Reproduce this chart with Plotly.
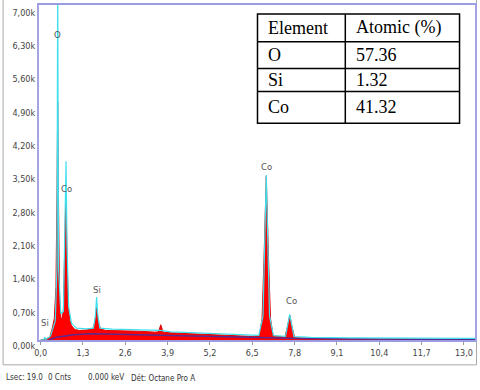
import plotly.graph_objects as go

# EDS spectrum (keV, counts)
red_kev = [0.0, 0.15, 0.28, 0.36, 0.42, 0.47, 0.5, 0.525, 0.55, 0.58, 0.62, 0.66,
           0.7, 0.74, 0.775, 0.81, 0.85, 0.9, 0.95, 1.05, 1.2, 1.4, 1.6, 1.67,
           1.72, 1.77, 1.84, 2.0, 2.5, 3.0, 3.5, 3.62, 3.69, 3.76, 4.0, 4.5, 5.0,
           5.5, 6.0, 6.5, 6.72, 6.8, 6.86, 6.93, 7.0, 7.06, 7.14, 7.45, 7.5, 7.58,
           7.65, 7.72, 7.8, 7.9, 8.5, 9.5, 10.5, 11.5, 12.5, 13.4]
red_cnt = [0, 20, 60, 250, 450, 1100, 2900, 5000, 2900, 900, 480, 430,
           650, 1800, 3050, 1800, 700, 400, 300, 220, 200, 210, 230, 380,
           680, 380, 230, 200, 195, 185, 165, 170, 320, 165, 150, 135, 120,
           105, 90, 75, 90, 450, 1700, 3430, 1700, 450, 90, 60, 60, 280,
           520, 280, 55, 45, 35, 25, 18, 12, 8, 5]

cyan_kev = [0.0, 0.1, 0.13, 0.16, 0.3, 0.45, 0.5, 0.525, 0.55, 0.62, 0.7, 0.75,
            0.78, 0.81, 0.86, 0.95, 1.1, 1.4, 1.62, 1.68, 1.72, 1.76, 1.82, 2.2,
            2.8, 3.5, 3.69, 4.0, 5.0, 6.0, 6.7, 6.83, 6.93, 7.03, 7.15, 7.52,
            7.65, 7.78, 8.3, 9.5, 11.0, 13.4]
cyan_cnt = [0, 10, 60, 10, 80, 400, 1500, 7600, 1500, 550, 600, 2500,
            3750, 2000, 700, 350, 250, 235, 250, 500, 900, 500, 250, 230,
            215, 190, 200, 170, 140, 105, 95, 500, 3460, 500, 90, 75,
            540, 70, 55, 45, 40, 35]

bg_kev = [0.25, 0.5, 1.0, 1.5, 2.0, 3.0, 4.0, 5.0, 6.0, 7.0, 8.0, 10.0, 13.4]
bg_cnt = [0, 60, 110, 130, 125, 110, 90, 70, 55, 40, 30, 20, 12]

# peak labels
peak_names = ["O", "Co", "Si", "Si", "Co", "Co"]
peak_kev = [0.53, 0.8, 1.74, 0.12, 6.94, 7.7]
peak_lbl_y = [6420, 3170, 1060, 375, 3650, 830]

# axis ticks
x_ticks = [0.0, 1.3, 2.6, 3.9, 5.2, 6.5, 7.8, 9.1, 10.4, 11.7, 13.0]
x_ticktext = ["0,0", "1,3", "2,6", "3,9", "5,2", "6,5", "7,8", "9,1", "10,4", "11,7", "13,0"]
y_ticks = [0, 700, 1400, 2100, 2800, 3500, 4200, 4900, 5600, 6300, 7000]
y_ticktext = ["0,00k", "0,70k", "1,40k", "2,10k", "2,80k", "3,50k", "4,20k",
              "4,90k", "5,60k", "6,30k", "7,00k"]

# quantification table
tbl_header = ["Element", "Atomic (%)"]
tbl_elements = ["O", "Si", "Co"]
tbl_atomic = ["57.36", "1.32", "41.32"]

status = ["Lsec: 19.0", "0 Cnts", "0.000 keV", "Dét: Octane Pro A"]

narrow = "DejaVu Sans Condensed, Liberation Sans Narrow, Roboto, sans-serif"
serif = "Liberation Serif, Times New Roman, serif"

# plot area in pixels (for converting overlay positions)
L, R, T, B = 39, 476, 3, 340
W, H = R - L, B - T
def px(x): return (x - L) / W
def py(y): return (B - y) / H

fig = go.Figure()

fig.add_trace(go.Scatter(x=red_kev, y=red_cnt, mode='lines', fill='tozeroy',
                         fillcolor='#ff0000', line=dict(color='#e00000', width=1)))
fig.add_trace(go.Scatter(x=bg_kev, y=bg_cnt, mode='lines',
                         line=dict(color='#5a2a90', width=1.5)))
fig.add_trace(go.Scatter(x=cyan_kev, y=cyan_cnt, mode='lines',
                         line=dict(color='#3fe0ee', width=1.2)))

for name, xk, yk in zip(peak_names, peak_kev, peak_lbl_y):
    fig.add_annotation(x=xk, y=yk, text=name, showarrow=False,
                       font=dict(family=narrow, size=9.5, color='#555'))

shapes = []
# outer gray frame
shapes.append(dict(type='rect', xref='paper', yref='paper',
                   x0=px(3), x1=px(477.5), y0=py(365), y1=py(-5),
                   line=dict(color='#a8a8a8', width=1), layer='below'))

# table
tl, tr, tt, tb, tc = 258, 460.5, 12, 122, 346
rows = [12, 40, 67, 90, 122]
shapes.append(dict(type='rect', xref='paper', yref='paper',
                   x0=px(tl), x1=px(tr), y0=py(tb), y1=py(tt),
                   fillcolor='white', line=dict(color='black', width=1.5)))
for ry in rows[1:-1]:
    shapes.append(dict(type='line', xref='paper', yref='paper',
                       x0=px(tl), x1=px(tr), y0=py(ry), y1=py(ry),
                       line=dict(color='black', width=1.5)))
shapes.append(dict(type='line', xref='paper', yref='paper',
                   x0=px(tc), x1=px(tc), y0=py(tb), y1=py(tt),
                   line=dict(color='black', width=1.5)))
fig.update_layout(shapes=shapes)

cells = [tbl_header] + [[e, a] for e, a in zip(tbl_elements, tbl_atomic)]
for i, (c1, c2) in enumerate(cells):
    yc = (rows[i] + rows[i + 1]) / 2
    for txt, xl in ((c1, 267), (c2, 355)):
        fig.add_annotation(xref='paper', yref='paper', x=px(xl), y=py(yc),
                           xanchor='left', yanchor='middle', text=txt, showarrow=False,
                           font=dict(family=serif, size=18, color='black'))

# status line under the chart
for txt, xl in zip(status, [4, 46, 86, 129]):
    fig.add_annotation(xref='paper', yref='paper', x=px(xl), y=py(378),
                       xanchor='left', yanchor='middle', text=txt, showarrow=False,
                       font=dict(family=narrow, size=8, color='#333'))

fig.update_layout(
    width=480, height=390,
    margin=dict(l=L, r=480 - R, t=T, b=390 - B),
    paper_bgcolor='white', plot_bgcolor='white',
    showlegend=False,
    xaxis=dict(range=[-0.05, 13.34], tickvals=x_ticks, ticktext=x_ticktext,
               showgrid=False, zeroline=False, showline=True, mirror=True,
               linecolor='#9c9ce0', linewidth=2, ticks='outside', ticklen=3,
               tickcolor='#999', tickfont=dict(family=narrow, size=9, color='#444')),
    yaxis=dict(range=[0, 7030], tickvals=y_ticks, ticktext=y_ticktext,
               showgrid=False, zeroline=False, showline=True, mirror=True,
               linecolor='#a4a4e4', linewidth=2, ticks='', ticklabelshift=6,
               tickfont=dict(family=narrow, size=9, color='#444')),
)

fig.write_html("out.html", config={'displayModeBar': False},
               post_script="document.body.style.margin='0';")
